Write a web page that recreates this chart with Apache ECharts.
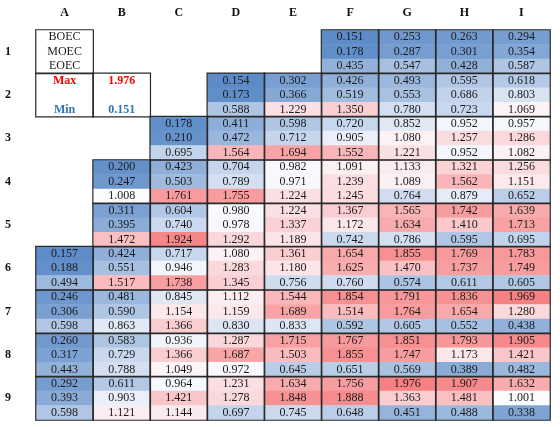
<!DOCTYPE html>
<html>
<head>
<meta charset="utf-8">
<script src="https://cdn.jsdelivr.net/npm/echarts@6/dist/echarts.min.js"></script>
<style>html,body{margin:0;padding:0;background:#fff;}#c{width:560px;height:427px;}</style>
</head>
<body>
<div id="c"></div>
<script>
// Column and row labels
const columns = ['A','B','C','D','E','F','G','H','I'];
const rowLabels = ['1','2','3','4','5','6','7','8','9'];
const subLabels = ['BOEC','MOEC','EOEC'];
// first filled column (index) for each row
const startCol = [5,3,2,1,1,0,0,0,0];
// values per row: each cell is [BOEC, MOEC, EOEC]
const r1 = [[0.151,0.178,0.435],[0.253,0.287,0.547],[0.263,0.301,0.428],[0.294,0.354,0.587]];
const r2 = [[0.154,0.173,0.588],[0.302,0.366,1.229],[0.426,0.519,1.350],[0.493,0.553,0.780],[0.595,0.686,0.723],[0.618,0.803,1.069]];
const r3 = [[0.178,0.210,0.695],[0.411,0.472,1.564],[0.598,0.712,1.694],[0.720,0.905,1.552],[0.852,1.080,1.221],[0.952,1.257,0.952],[0.957,1.286,1.082]];
const r4 = [[0.200,0.247,1.008],[0.423,0.503,1.761],[0.704,0.789,1.755],[0.982,0.971,1.224],[1.091,1.239,1.245],[1.133,1.089,0.764],[1.321,1.562,0.879],[1.256,1.151,0.652]];
const r5 = [[0.311,0.395,1.472],[0.604,0.740,1.924],[0.980,0.978,1.292],[1.224,1.337,1.189],[1.367,1.172,0.742],[1.565,1.634,0.786],[1.742,1.410,0.595],[1.639,1.713,0.695]];
const r6 = [[0.157,0.188,0.494],[0.424,0.551,1.517],[0.717,0.946,1.738],[1.080,1.283,1.345],[1.361,1.180,0.756],[1.654,1.625,0.760],[1.855,1.470,0.574],[1.769,1.737,0.611],[1.783,1.749,0.605]];
const r7 = [[0.246,0.306,0.598],[0.481,0.590,0.863],[0.845,1.154,1.366],[1.112,1.159,0.830],[1.544,1.689,0.833],[1.854,1.514,0.592],[1.791,1.764,0.605],[1.836,1.654,0.552],[1.969,1.280,0.438]];
const r8 = [[0.260,0.317,0.443],[0.583,0.729,0.788],[0.936,1.366,1.049],[1.287,1.687,0.972],[1.715,1.503,0.645],[1.767,1.855,0.651],[1.851,1.747,0.569],[1.793,1.173,0.389],[1.905,1.421,0.482]];
const r9 = [[0.292,0.393,0.598],[0.611,0.903,1.121],[0.964,1.421,1.144],[1.231,1.278,0.697],[1.634,1.848,0.745],[1.756,1.888,0.648],[1.976,1.363,0.451],[1.907,1.481,0.488],[1.632,1.001,0.338]];
const rows = [r1,r2,r3,r4,r5,r6,r7,r8,r9];

// build heatmap data
const heatData = [];
const boxData = [];
rows.forEach((row, ri) => {
  row.forEach((cell, k) => {
    const ci = startCol[ri] + k;
    cell.forEach((v, s) => heatData.push([ci, ri*3 + s, v]));
    boxData.push([ci, ri, 0]);
  });
});
const allVals = heatData.map(d => d[2]);
const maxVal = Math.max(...allVals);
const minVal = Math.min(...allVals);
const midVal = 1.0;

// legend boxes
boxData.push([0, 0, 0], [0, 1, 0], [1, 1, 0]);
const subCats = [];
for (let i = 0; i < 27; i++) subCats.push(String(i));

const textData = [
  {value: [0, 0], name: subLabels[0], kind: 'n'},
  {value: [0, 1], name: subLabels[1], kind: 'n'},
  {value: [0, 2], name: subLabels[2], kind: 'n'},
  {value: [0, 3], name: 'Max', kind: 'r'},
  {value: [1, 3], name: maxVal.toFixed(3), kind: 'r'},
  {value: [0, 5], name: 'Min', kind: 'b'},
  {value: [1, 5], name: minVal.toFixed(3), kind: 'b'}
];

// colour scale (3 colour scale, blue - white - red)
const cBlue = [92,139,199], cWhite = [252,252,255], cRed = [246,128,130];
function lerp(a, b, t) { return a.map((x, i) => Math.round(x + (b[i]-x)*t)); }
const stops = [];
const N = 80;
for (let i = 0; i < N; i++) {
  const v = minVal + (maxVal - minVal) * i / (N - 1);
  const c = v <= midVal ? lerp(cBlue, cWhite, (v - minVal) / (midVal - minVal))
                        : lerp(cWhite, cRed, (v - midVal) / (maxVal - midVal));
  stops.push('rgb(' + c.join(',') + ')');
}

const serif = 'Liberation Serif';
const chart = echarts.init(document.getElementById('c'), null, {renderer: 'canvas'});
chart.setOption({
  backgroundColor: '#ffffff',
  animation: false,
  grid: {left: 36, right: 10, top: 30, bottom: 7},
  xAxis: {
    type: 'category', data: columns, position: 'top',
    axisLine: {show: false}, axisTick: {show: false}, splitLine: {show: false},
    axisLabel: {fontFamily: serif, fontWeight: 'bold', fontSize: 12, color: '#111', margin: 11}
  },
  yAxis: [
    {type: 'category', data: subCats, inverse: true, show: false},
    {type: 'category', data: rowLabels, inverse: true, position: 'left', offset: 0,
     axisLine: {show: false}, axisTick: {show: false}, splitLine: {show: false},
     axisLabel: {fontFamily: serif, fontWeight: 'bold', fontSize: 12, color: '#111', margin: 28, align: 'center'}}
  ],
  visualMap: {
    show: false, type: 'continuous', seriesIndex: 0,
    min: minVal, max: maxVal, dimension: 2,
    inRange: {color: stops}
  },
  series: [
    {
      type: 'heatmap', yAxisIndex: 0, data: heatData, z: 2,
      itemStyle: {borderWidth: 0},
      label: {show: true, fontFamily: serif, fontSize: 12, color: '#1a1a1a',
              formatter: p => p.value[2].toFixed(3)},
      emphasis: {disabled: true}
    },
    {
      type: 'heatmap', yAxisIndex: 1, data: boxData, z: 3,
      itemStyle: {color: 'rgba(0,0,0,0)', borderColor: '#2a2a2a', borderWidth: 1.2},
      label: {show: false},
      emphasis: {disabled: true}
    },
    {
      type: 'scatter', yAxisIndex: 0, data: textData, z: 4,
      symbolSize: 0, itemStyle: {color: '#ffffff', opacity: 1},
      label: {
        show: true, position: 'inside', fontFamily: serif, fontSize: 12, opacity: 1,
        formatter: p => p.data.kind === 'n' ? p.name : '{' + p.data.kind + '|' + p.name + '}',
        color: '#1a1a1a',
        rich: {
          r: {color: '#ff0000', fontWeight: 'bold', fontFamily: serif, fontSize: 12},
          b: {color: '#2e75b6', fontWeight: 'bold', fontFamily: serif, fontSize: 12}
        }
      },
      emphasis: {disabled: true}
    }
  ]
});
</script>
</body>
</html>
